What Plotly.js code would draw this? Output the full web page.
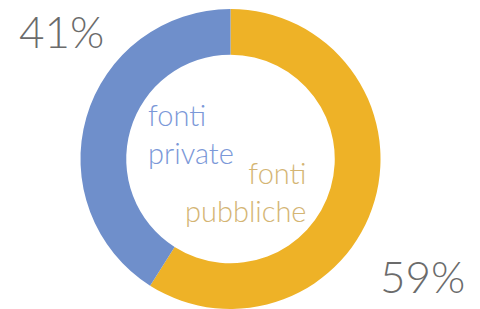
<!DOCTYPE html>
<html><head><meta charset="utf-8">
<script src="https://cdn.plot.ly/plotly-3.0.1.min.js"></script>
<style>html,body{margin:0;padding:0;background:#fff;}#chart{width:480px;height:309px;}</style>
</head><body><div id="chart"></div>
<script>
const categories = ["fonti pubbliche", "fonti private"];
const values = [59, 41];
const pctLabels = ["59%", "41%"];
const sliceColors = ["#EEB227", "#6F8FCB"];
const labelColors = ["#D4B574", "#7B98D8"];

const data = [{
  type: "pie",
  labels: categories,
  values: values,
  sort: false,
  direction: "clockwise",
  rotation: 0,
  hole: 0.695,
  textinfo: "none",
  hoverinfo: "none",
  marker: {colors: sliceColors, line: {width: 0}},
  domain: {x: [0.1646, 0.7958], y: [0, 0.971]},
  showlegend: false
}];

const font = {family: "Lato, 'Open Sans', sans-serif", weight: 300};
const layout = {
  width: 480, height: 309,
  margin: {l: 0, r: 0, t: 0, b: 0},
  paper_bgcolor: "#fff",
  annotations: [
    {text: pctLabels[1], xref: "paper", yref: "paper", x: 17/480, y: 1 - 31/309, xanchor: "left", yanchor: "middle", showarrow: false,
     font: Object.assign({}, font, {size: 44, color: "#6B6B6B"})},
    {text: pctLabels[0], xref: "paper", yref: "paper", x: 467/480, y: 1 - 276/309, xanchor: "right", yanchor: "middle", showarrow: false,
     font: Object.assign({}, font, {size: 44, color: "#6B6B6B"})},
    {text: "fonti<br>private", xref: "paper", yref: "paper", x: 146/480, y: 1 - 133/309, xanchor: "left", yanchor: "middle", align: "left", showarrow: false,
     font: Object.assign({}, font, {size: 29, color: labelColors[1]})},
    {text: "fonti<br>pubbliche", xref: "paper", yref: "paper", x: 309/480, y: 1 - 192/309, xanchor: "right", yanchor: "middle", align: "right", showarrow: false,
     font: Object.assign({}, font, {size: 29, color: labelColors[0]})}
  ]
};
Plotly.newPlot("chart", data, layout, {displayModeBar: false, staticPlot: true});
</script></body></html>
